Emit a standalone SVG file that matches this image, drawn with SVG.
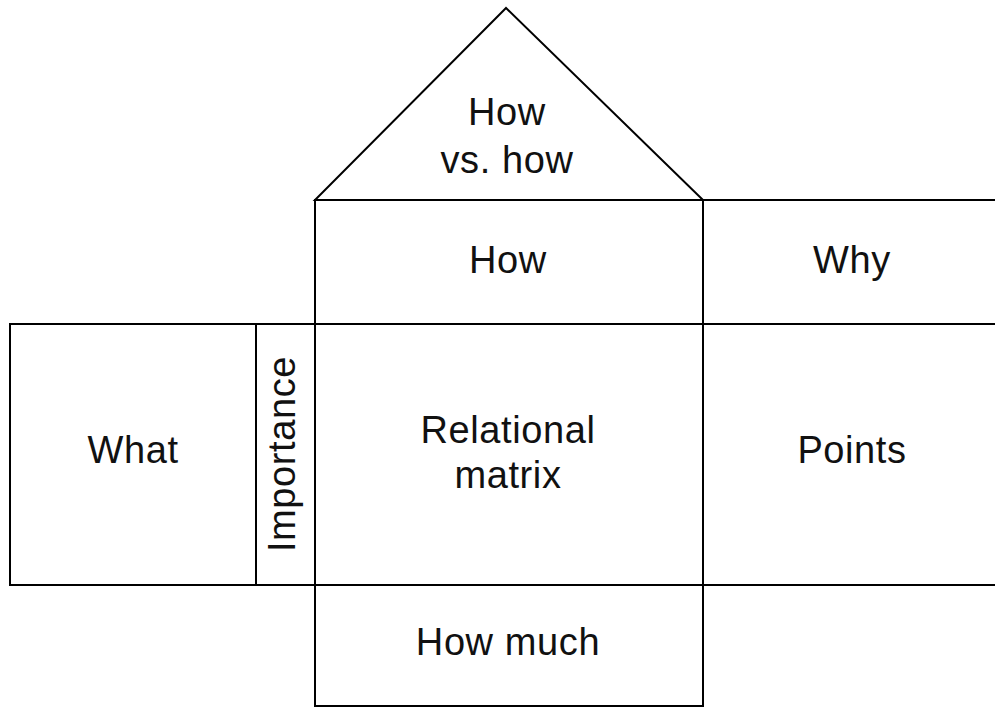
<svg xmlns="http://www.w3.org/2000/svg" width="995" height="708" viewBox="0 0 995 708">
<style>
.b{fill:#fff;stroke:#000;stroke-width:2}
.t{font-family:"Liberation Sans",Arial,sans-serif;font-size:38px;letter-spacing:0.6px;fill:#111;text-anchor:middle}
</style>
<rect width="995" height="708" fill="#fff"/>
<g id="roof"><polygon class="b" points="506,8 315,200 703,200"/><text class="t" x="507" y="125">How</text><text class="t" x="507" y="173">vs. how</text></g>
<g id="how"><rect class="b" x="315" y="200" width="388" height="124"/><text class="t" x="508" y="273">How</text></g>
<g id="why"><rect class="b" x="703" y="200" width="310" height="124"/><text class="t" x="852" y="273">Why</text></g>
<g id="what"><rect class="b" x="10" y="324" width="246" height="261"/><text class="t" x="133" y="463">What</text></g>
<g id="importance"><rect class="b" x="256" y="324" width="59" height="261"/><text class="t" transform="translate(295,454) rotate(-90)" x="0" y="0">Importance</text></g>
<g id="matrix"><rect class="b" x="315" y="324" width="388" height="261"/><text class="t" x="508" y="443">Relational</text><text class="t" x="508" y="488">matrix</text></g>
<g id="points"><rect class="b" x="703" y="324" width="310" height="261"/><text class="t" x="852" y="463">Points</text></g>
<g id="howmuch"><rect class="b" x="315" y="585" width="388" height="121"/><text class="t" x="508" y="655">How much</text></g>
<g id="connectors"></g>
</svg>
